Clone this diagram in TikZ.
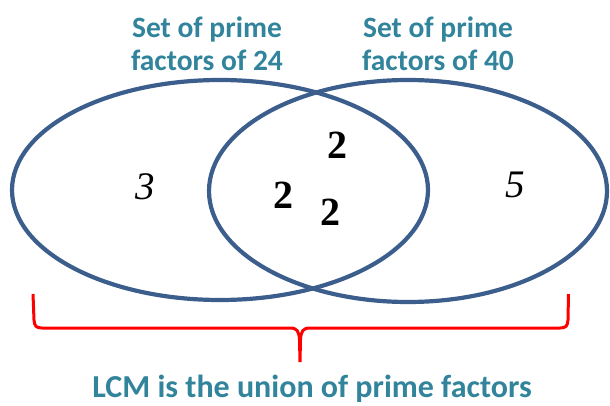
\documentclass[tikz,border=0pt]{standalone}
\usepackage{fontspec}
\setmainfont{Carlito}
\newfontfamily\numfont{Liberation Serif}
\definecolor{ellcol}{RGB}{59,94,140}
\definecolor{labcol}{RGB}{49,132,155}
\begin{document}
\begin{tikzpicture}[x=1pt,y=-1pt,
  setline/.style={draw=ellcol,line width=4.2pt},
  lab/.style={text=labcol,font=\fontsize{29.5}{33}\selectfont\bfseries,align=center,inner sep=0pt},
  blab/.style={text=labcol,font=\fontsize{32}{36}\selectfont\bfseries,align=center,inner sep=0pt},
  num/.style={font=\fontsize{40}{40}\selectfont\numfont\bfseries,inner sep=0pt},
  inum/.style={font=\fontsize{39}{39}\selectfont\numfont\itshape,inner sep=0pt},
  brace/.style={draw=red,line width=3pt}]
\useasboundingbox (0,0) rectangle (610,406);
\draw[setline] (220,190) ellipse [x radius=208, y radius=110];
\draw[setline] (408,191) ellipse [x radius=199, y radius=111];
\node[lab] (l24) at (207,44) {Set of prime\\factors of 24};
\node[lab] (l40) at (438,44) {Set of prime\\factors of 40};
\node[inum] (n3) at (145,187) {3};
\node[inum] (n5) at (515,185) {5};
\node[num] (a) at (337,145) {2};
\node[num] (b) at (283,195) {2};
\node[num] (c) at (330,212) {2};
\draw[brace] (33,294) -- (34,320) .. controls (34.5,326) and (36,328) .. (42,328)
  -- (290,328) .. controls (297,328) and (299,331) .. (299.5,340) -- (300,362)
  -- (300.5,340) .. controls (301,331) and (303,328) .. (310,328)
  -- (560,328) .. controls (566,328) and (567.5,326) .. (568,320) -- (568.5,294);
\node[blab] (lcm) at (312,389) {LCM is the union of prime factors};
\end{tikzpicture}
\end{document}
